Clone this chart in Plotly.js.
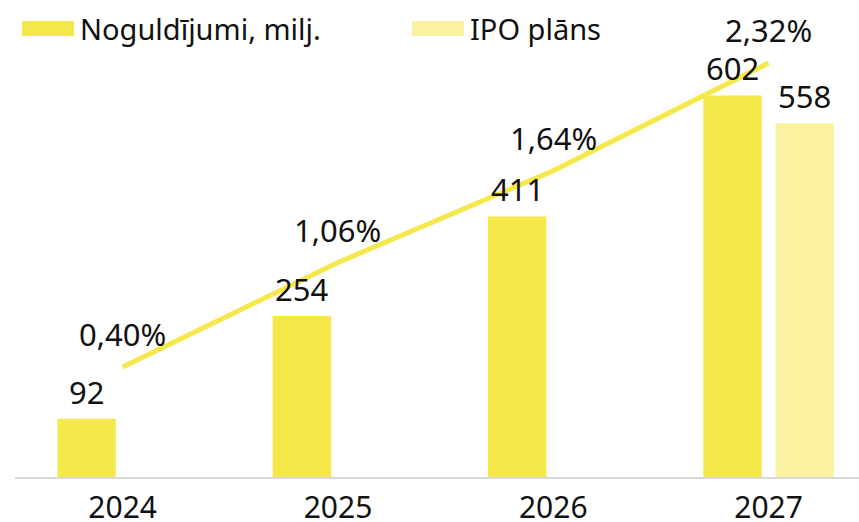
<!DOCTYPE html>
<html>
<head>
<meta charset="utf-8">
<script src="https://cdn.plot.ly/plotly-3.0.1.min.js"></script>
<style>
  body { margin: 0; background: #fff; }
  #chart { width: 859px; height: 522px; }
</style>
</head>
<body>
<div id="chart"></div>
<script>
var years = ["2024", "2025", "2026", "2027"];
var deposits = [92, 254, 411, 602];
var ipoPlan = [null, null, null, 558];
var sharePct = [0.40, 1.06, 1.64, 2.32];
var shareLabels = ["0,40%", "1,06%", "1,64%", "2,32%"];

var yellow = "#F6E84A";
var paleYellow = "#FAF2A0";
var fontFam = "'Noto Sans', 'Open Sans', sans-serif";

var traceDep = {
    x: years,
    y: deposits,
    type: "bar",
    name: "Noguldījumi, milj.",
    marker: {color: yellow},
    hoverinfo: "skip"
};

var traceIpo = {
    x: years,
    y: ipoPlan,
    type: "bar",
    name: "IPO plāns",
    marker: {color: paleYellow},
    hoverinfo: "skip"
};

var traceShare = {
    x: years,
    y: sharePct,
    type: "scatter",
    mode: "lines",
    yaxis: "y2",
    line: {color: yellow, width: 5},
    hoverinfo: "skip"
};

var notes = [];
// value labels above the bars (x given as category index)
deposits.forEach(function(v, i) {
    notes.push({x: i, y: v, text: String(v), showarrow: false,
        xshift: -36, yshift: 27, yanchor: "middle"});
});
ipoPlan.forEach(function(v, i) {
    if (v === null) return;
    notes.push({x: i, y: v, text: String(v), showarrow: false,
        xshift: 36, yshift: 27, yanchor: "middle"});
});
// percentage labels above the line
sharePct.forEach(function(v, i) {
    notes.push({x: i, y: v, yref: "y2", text: shareLabels[i], showarrow: false,
        yshift: 33, yanchor: "middle"});
});
// hand-made legend
var legendItems = [
    {label: traceDep.name, color: yellow, sx: 22, tx: 78},
    {label: traceIpo.name, color: paleYellow, sx: 412, tx: 468}
];
var plotL = 15, plotW = 844, plotT = 20, plotH = 457;
function px(x) { return (x - plotL) / plotW; }
function py(y) { return 1 - (y - plotT) / plotH; }

var shapes = [];
legendItems.forEach(function(it) {
    shapes.push({type: "rect", xref: "paper", yref: "paper",
        x0: px(it.sx), x1: px(it.sx + 52), y0: py(36), y1: py(21),
        fillcolor: it.color, line: {width: 0}});
    notes.push({xref: "paper", yref: "paper", x: px(it.tx), y: py(28.5),
        xanchor: "left", yanchor: "middle", text: it.label, showarrow: false,
        font: {size: 29}});
});

var layout = {
    width: 859,
    height: 522,
    margin: {l: plotL, r: 0, t: plotT, b: 45},
    paper_bgcolor: "#fff",
    plot_bgcolor: "#fff",
    font: {family: fontFam, size: 31, color: "#111"},
    showlegend: false,
    barmode: "group",
    bargap: 0.33,
    bargroupgap: 0.19,
    xaxis: {
        type: "category",
        range: [-0.5, 3.42],
        showgrid: false,
        showline: true,
        linecolor: "#D9D9D9",
        linewidth: 1.5,
        ticks: "",
        ticklabelstandoff: 3,
        tickfont: {size: 30, color: "#111"},
        fixedrange: true
    },
    yaxis: {
        range: [0, 721],
        visible: false,
        showgrid: false,
        zeroline: false,
        fixedrange: true
    },
    yaxis2: {
        overlaying: "y",
        range: [-0.295, 2.592],
        visible: false,
        showgrid: false,
        zeroline: false,
        fixedrange: true
    },
    annotations: notes,
    shapes: shapes
};

Plotly.newPlot("chart", [traceDep, traceIpo, traceShare], layout, {displayModeBar: false, staticPlot: true});
</script>
</body>
</html>
